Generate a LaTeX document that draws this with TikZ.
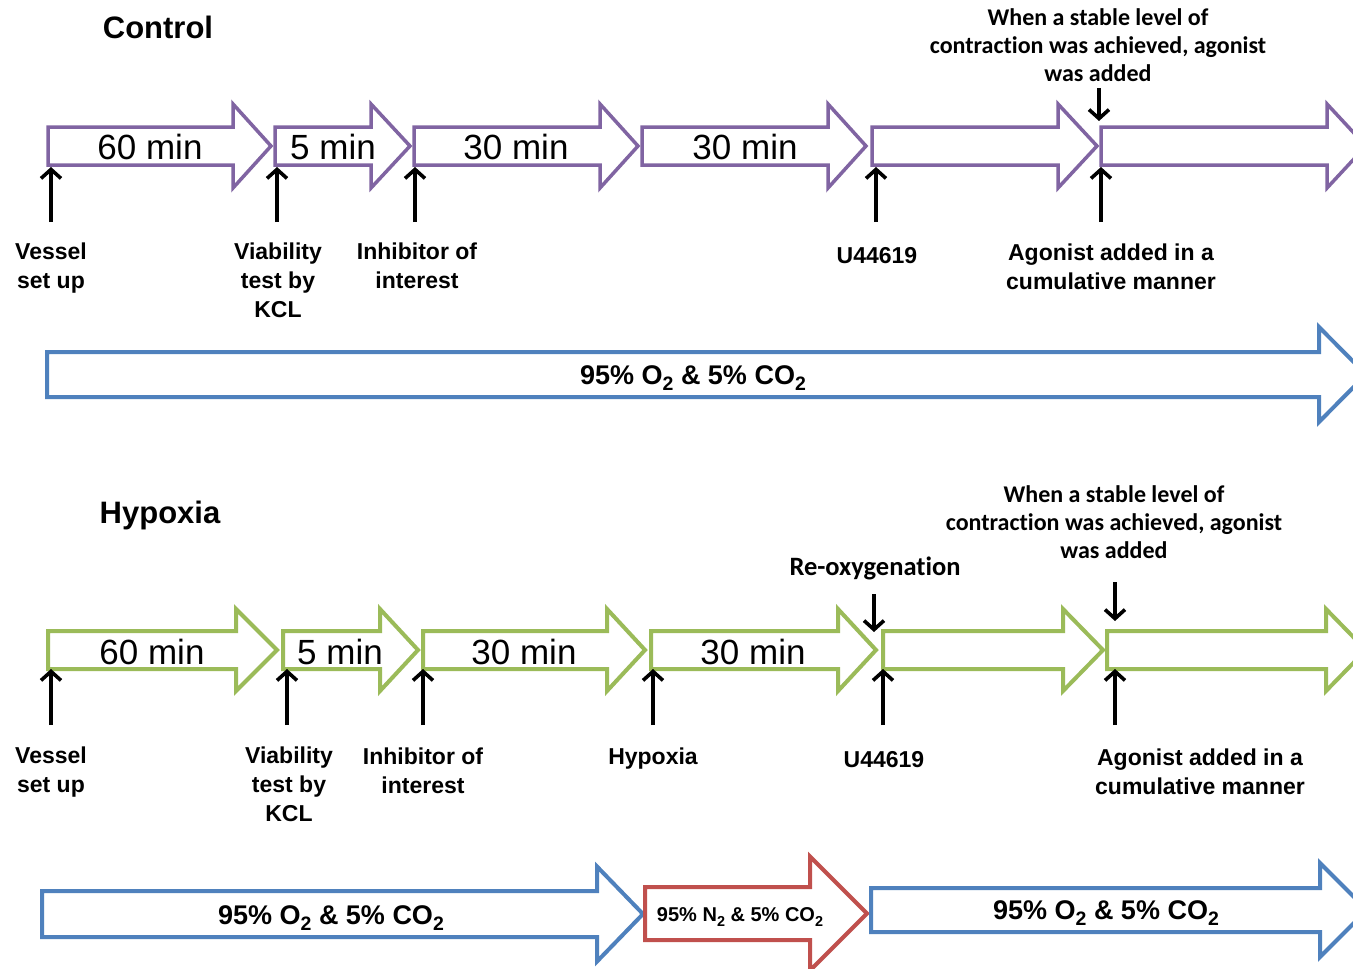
\documentclass[tikz,border=0pt]{standalone}
\usepackage{fontspec}
\setmainfont{Liberation Sans}
\newfontfamily\calib[Ligatures=NoCommon]{Carlito}
\usetikzlibrary{arrows.meta}
\definecolor{cpurple}{HTML}{8064A2}
\definecolor{cgreen}{HTML}{9BBB59}
\definecolor{cblue}{HTML}{4F81BD}
\definecolor{cred}{HTML}{C0504D}
\newcommand\blockarrow[7]{%
  \draw[#1] (#2,{#5-#6}) -- (#3,{#5-#6}) -- (#3,{#5-#7}) -- (#4,#5) -- (#3,{#5+#7}) -- (#3,{#5+#6}) -- (#2,{#5+#6}) -- cycle;}
\newcommand\lowsub[1]{\raisebox{-0.24em}{\scalebox{0.72}{#1}}}
\tikzset{
  purplearrow/.style={draw=cpurple,line width=3.5pt,fill=white},
  greenarrow/.style={draw=cgreen,line width=4pt,fill=white},
  bluearrow/.style={draw=cblue,line width=4pt,fill=white},
  redarrow/.style={draw=cred,line width=4pt,fill=white},
  pin/.style={line width=3.6pt,black,-{Straight Barb[length=9pt,width=20pt]}},
  title/.style={font=\bfseries\fontsize{31}{36}\selectfont,inner sep=0pt},
  mins/.style={font=\fontsize{35}{40}\selectfont,inner sep=0pt},
  lbl/.style={font=\bfseries\fontsize{23}{29}\selectfont,align=center,inner sep=0pt},
  clbl/.style={font=\calib\bfseries\fontsize{24}{28}\selectfont,align=center,inner sep=0pt},
  reolbl/.style={font=\calib\bfseries\fontsize{26.5}{30}\selectfont,inner sep=0pt},
  gas/.style={font=\bfseries\fontsize{27}{32}\selectfont,inner sep=0pt},
  smallgas/.style={font=\bfseries\fontsize{20}{24}\selectfont,inner sep=0pt}
}
\begin{document}
\begin{tikzpicture}[x=1pt,y=-1pt]
\clip (0,0) rectangle (1353,969);
\fill[white] (0,0) rectangle (1353,969);

% ---------------- Control ----------------
\node[title] (ctitle) at (158,27) {Control};
\blockarrow{purplearrow}{48}{233}{271}{146}{19}{42}
\blockarrow{purplearrow}{275}{371}{410}{146}{19}{42}
\blockarrow{purplearrow}{414}{600}{638}{146}{19}{42}
\blockarrow{purplearrow}{642}{828}{866}{146}{19}{42}
\blockarrow{purplearrow}{872}{1058}{1097}{146}{19}{42}
\blockarrow{purplearrow}{1101}{1327}{1366}{146}{19}{42}
\node[mins] (c60) at (150,147) {60 min};
\node[mins] (c5) at (333,147) {5 min};
\node[mins] (c30a) at (516,147) {30 min};
\node[mins] (c30b) at (745,147) {30 min};

\foreach \n/\x in {cv/51,cvt/277,cin/415,cu/876,cag/1101}{
  \coordinate (\n s) at (\x,222);
  \coordinate (\n e) at (\x,167);
  \draw[pin] (\n s) -- (\n e);
}
\coordinate (cdowns) at (1099,88);
\coordinate (cdowne) at (1099,121);
\draw[pin] (cdowns) -- (cdowne);

\node[lbl] (cvessel) at (51,268) {Vessel\\set up};
\node[lbl] (cviab) at (278,280) {Viability\\test by\\KCL};
\node[lbl] (cinhib) at (417,266) {Inhibitor of\\interest};
\node[lbl] (cu4) at (877,256) {U44619};
\node[lbl] (cagon) at (1111,267) {Agonist added in a\\cumulative manner};
\node[clbl] (cwhen) at (1098,45) {When a stable level of\\contraction was achieved, agonist\\was added};

\blockarrow{bluearrow}{47}{1319}{1366}{374.5}{22.5}{47.5}
\node[gas] (cgas) at (693,378) {95\% O\lowsub{2} \& 5\% CO\lowsub{2}};

% ---------------- Hypoxia ----------------
\node[title] (htitle) at (160,515) {Hypoxia};
\blockarrow{greenarrow}{48}{236}{277}{650}{19}{41}
\blockarrow{greenarrow}{283}{380}{418}{650}{19}{41}
\blockarrow{greenarrow}{423}{607}{645}{650}{19}{41}
\blockarrow{greenarrow}{651}{838}{876}{650}{19}{41}
\blockarrow{greenarrow}{883}{1063}{1103}{650}{19}{41}
\blockarrow{greenarrow}{1107}{1326}{1366}{650}{19}{41}
\node[mins] (h60) at (152,652) {60 min};
\node[mins] (h5) at (340,652) {5 min};
\node[mins] (h30a) at (524,652) {30 min};
\node[mins] (h30b) at (753,652) {30 min};

\foreach \n/\x in {hv/51,hvt/287,hin/423,hhy/653,hu/883,hag/1115}{
  \coordinate (\n s) at (\x,725);
  \coordinate (\n e) at (\x,669);
  \draw[pin] (\n s) -- (\n e);
}
\coordinate (hreos) at (874,594);
\coordinate (hreoe) at (874,632);
\draw[pin] (hreos) -- (hreoe);
\coordinate (hdowns) at (1115,582);
\coordinate (hdowne) at (1115,621);
\draw[pin] (hdowns) -- (hdowne);

\node[lbl] (hvessel) at (51,772) {Vessel\\set up};
\node[lbl] (hviab) at (289,784) {Viability\\test by\\KCL};
\node[lbl] (hinhib) at (423,771) {Inhibitor of\\interest};
\node[lbl] (hhyp) at (653,759) {Hypoxia};
\node[lbl] (hu4) at (884,760) {U44619};
\node[lbl] (hagon) at (1200,772) {Agonist added in a\\cumulative manner};
\node[reolbl] (hreo) at (875,568) {Re-oxygenation};
\node[clbl] (hwhen) at (1114,522) {When a stable level of\\contraction was achieved, agonist\\was added};

\blockarrow{bluearrow}{42}{597}{643}{914}{23}{47.5}
\blockarrow{redarrow}{645}{810}{867}{913.5}{26.5}{57}
\blockarrow{bluearrow}{871}{1320}{1367}{910}{22}{47}
\node[gas] (hgas1) at (331,918) {95\% O\lowsub{2} \& 5\% CO\lowsub{2}};
\node[smallgas] (hgas2) at (740,917) {95\% N\lowsub{2} \& 5\% CO\lowsub{2}};
\node[gas] (hgas3) at (1106,913) {95\% O\lowsub{2} \& 5\% CO\lowsub{2}};
\end{tikzpicture}
\end{document}
